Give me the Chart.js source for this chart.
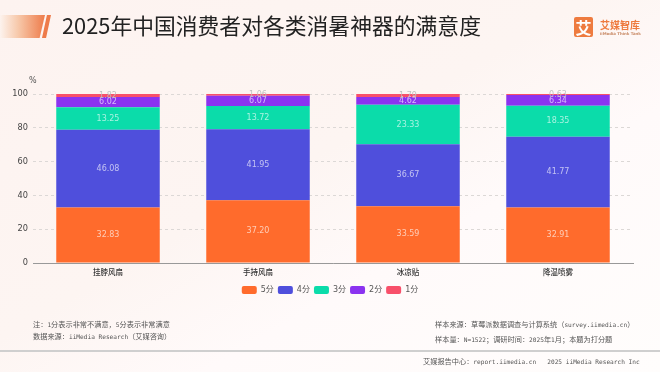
<!DOCTYPE html>
<html><head><meta charset="utf-8">
<script src="https://cdn.jsdelivr.net/npm/chart.js@4/dist/chart.umd.min.js"></script>
<style>
html,body{margin:0;padding:0;width:660px;height:372px;overflow:hidden}
#wrap{position:relative;width:660px;height:372px;background:linear-gradient(150deg,#fdf3f0 0%,#fdf5f2 45%,#fffafa 65%,#fffdfc 100%)}
canvas{position:absolute;left:0;top:0}
.t{position:absolute;white-space:pre;line-height:1}
.f{font-family:"Noto Sans CJK SC",sans-serif;font-size:7.2px;color:#555}
.m{font-family:"DejaVu Sans Mono",monospace;font-size:6.15px}
</style></head><body>
<div id="wrap">
<canvas id="c" width="660" height="372"></canvas>
<div style="position:absolute;left:0;top:15px;width:45px;height:23px;background:linear-gradient(90deg,#fdf3ee 0%,#f7c9ab 40%,#ee7b4a 100%);clip-path:polygon(0 0,100% 0,88% 100%,0 100%)"></div>
<div style="position:absolute;left:42px;top:15px;width:9px;height:23px;background:#ee7b4a;clip-path:polygon(55% 0,100% 0,45% 100%,0 100%)"></div>
<div class="t" style="left:62px;top:14px;font:21.8px 'Noto Sans CJK SC',sans-serif;color:#222;line-height:1">2025年中国消费者对各类消暑神器的满意度</div>
<div style="position:absolute;left:574px;top:17px;width:19px;height:20px;background:#ee7b3f;border-radius:2px"></div>
<div class="t" style="left:574px;top:17px;width:19px;text-align:center;font:bold 16px/20px 'Noto Sans CJK SC',sans-serif;color:#fff">艾</div>
<div class="t" style="left:600px;top:17px;font:bold 10px 'Noto Sans CJK SC',sans-serif;color:#ee7b3f">艾媒智库</div>
<div class="t" style="left:600px;top:31px;font:bold 3.9px 'DejaVu Sans',sans-serif;color:#c98a66">iiMedia Think Tank</div>
<div class="t" style="left:29px;top:76px;font:8px 'DejaVu Sans',sans-serif;color:#555">%</div>
<div class="t f" style="left:33px;top:321px">注：<span class="m">1</span>分表示非常不满意，<span class="m">5</span>分表示非常满意</div>
<div class="t f" style="left:33px;top:333px">数据来源：<span class="m">iiMedia Research</span>（艾媒咨询）</div>
<div class="t f" style="left:435px;top:321px">样本来源：草莓派数据调查与计算系统（<span class="m">survey.iimedia.cn</span>）</div>
<div class="t f" style="left:435px;top:336px">样本量：<span class="m">N=1522</span>；调研时间：<span class="m">2025</span>年<span class="m">1</span>月；本题为打分题</div>
<div style="position:absolute;left:0;top:350px;width:660px;height:1.5px;background:#cfcfcf"></div>
<div class="t f" style="left:423px;top:358px">艾媒报告中心：<span class="m">report.iimedia.cn   2025 iiMedia Research Inc</span></div>
</div>
<script>
const categories=["挂脖风扇","手持风扇","冰凉贴","降温喷雾"];
const score5=[32.83,37.20,33.59,32.91];
const score4=[46.08,41.95,36.67,41.77];
const score3=[13.25,13.72,23.33,18.35];
const score2=[6.02,6.07,4.62,6.34];
const score1=[1.82,1.06,1.79,0.63];
const seriesNames=["5分","4分","3分","2分","1分"];
const colors=["#ff6b2c","#4f4fdc","#0bdcaa","#8b33f0","#f8506a"];
const yTicks=[0,20,40,60,80,100];
const values=[score5,score4,score3,score2,score1];
const labelPlugin={id:"barLabels",afterDatasetsDraw(ch){
  const g=ch.ctx;g.save();
  g.font="8px 'DejaVu Sans',sans-serif";g.textAlign="center";g.textBaseline="middle";
  ch.data.datasets.forEach((d,i)=>{
    ch.getDatasetMeta(i).data.forEach((b,j)=>{
      g.fillStyle=i===4?"rgba(190,190,190,.95)":"rgba(255,255,255,.65)";
      g.fillText(d.data[j].toFixed(2),b.x,(b.y+b.base)/2);
    });
  });
  g.restore();
}};
new Chart(document.getElementById("c"),{
  type:"bar",
  data:{labels:categories,datasets:seriesNames.map((n,i)=>({label:n,data:values[i],backgroundColor:colors[i],borderWidth:0,barPercentage:0.69,categoryPercentage:1}))},
  options:{
    responsive:false,animation:false,
    layout:{padding:{top:94,left:0,right:0,bottom:68}},
    plugins:{
      tooltip:{enabled:false},
      legend:{position:"bottom",align:"center",
        labels:{boxWidth:15,boxHeight:8,useBorderRadius:true,borderRadius:2,padding:4,color:"#555",font:{size:8,family:"'DejaVu Sans','Noto Sans CJK SC',sans-serif"}}}
    },
    scales:{
      x:{stacked:true,grid:{display:false,drawTicks:false},border:{color:"#999"},
        ticks:{color:"#333",padding:5,font:{size:7.5,family:"'Noto Sans CJK SC',sans-serif",weight:"500"}}},
      y:{stacked:true,min:0,max:100,afterFit(s){s.width=33},
        afterBuildTicks(s){s.ticks=yTicks.map(v=>({value:v}))},
        grid:{color:"#dcd8d6",drawTicks:false},
        border:{display:false,dash:[3,3]},
        ticks:{color:"#444",padding:5,font:{size:8.2,family:"'DejaVu Sans',sans-serif"}}},
      rightGap:{position:"right",display:true,min:0,max:100,afterFit(s){s.width=27},
        grid:{display:false,drawTicks:false},border:{display:false},ticks:{display:false}}
    }
  },
  plugins:[labelPlugin]
});
</script>
</body></html>
